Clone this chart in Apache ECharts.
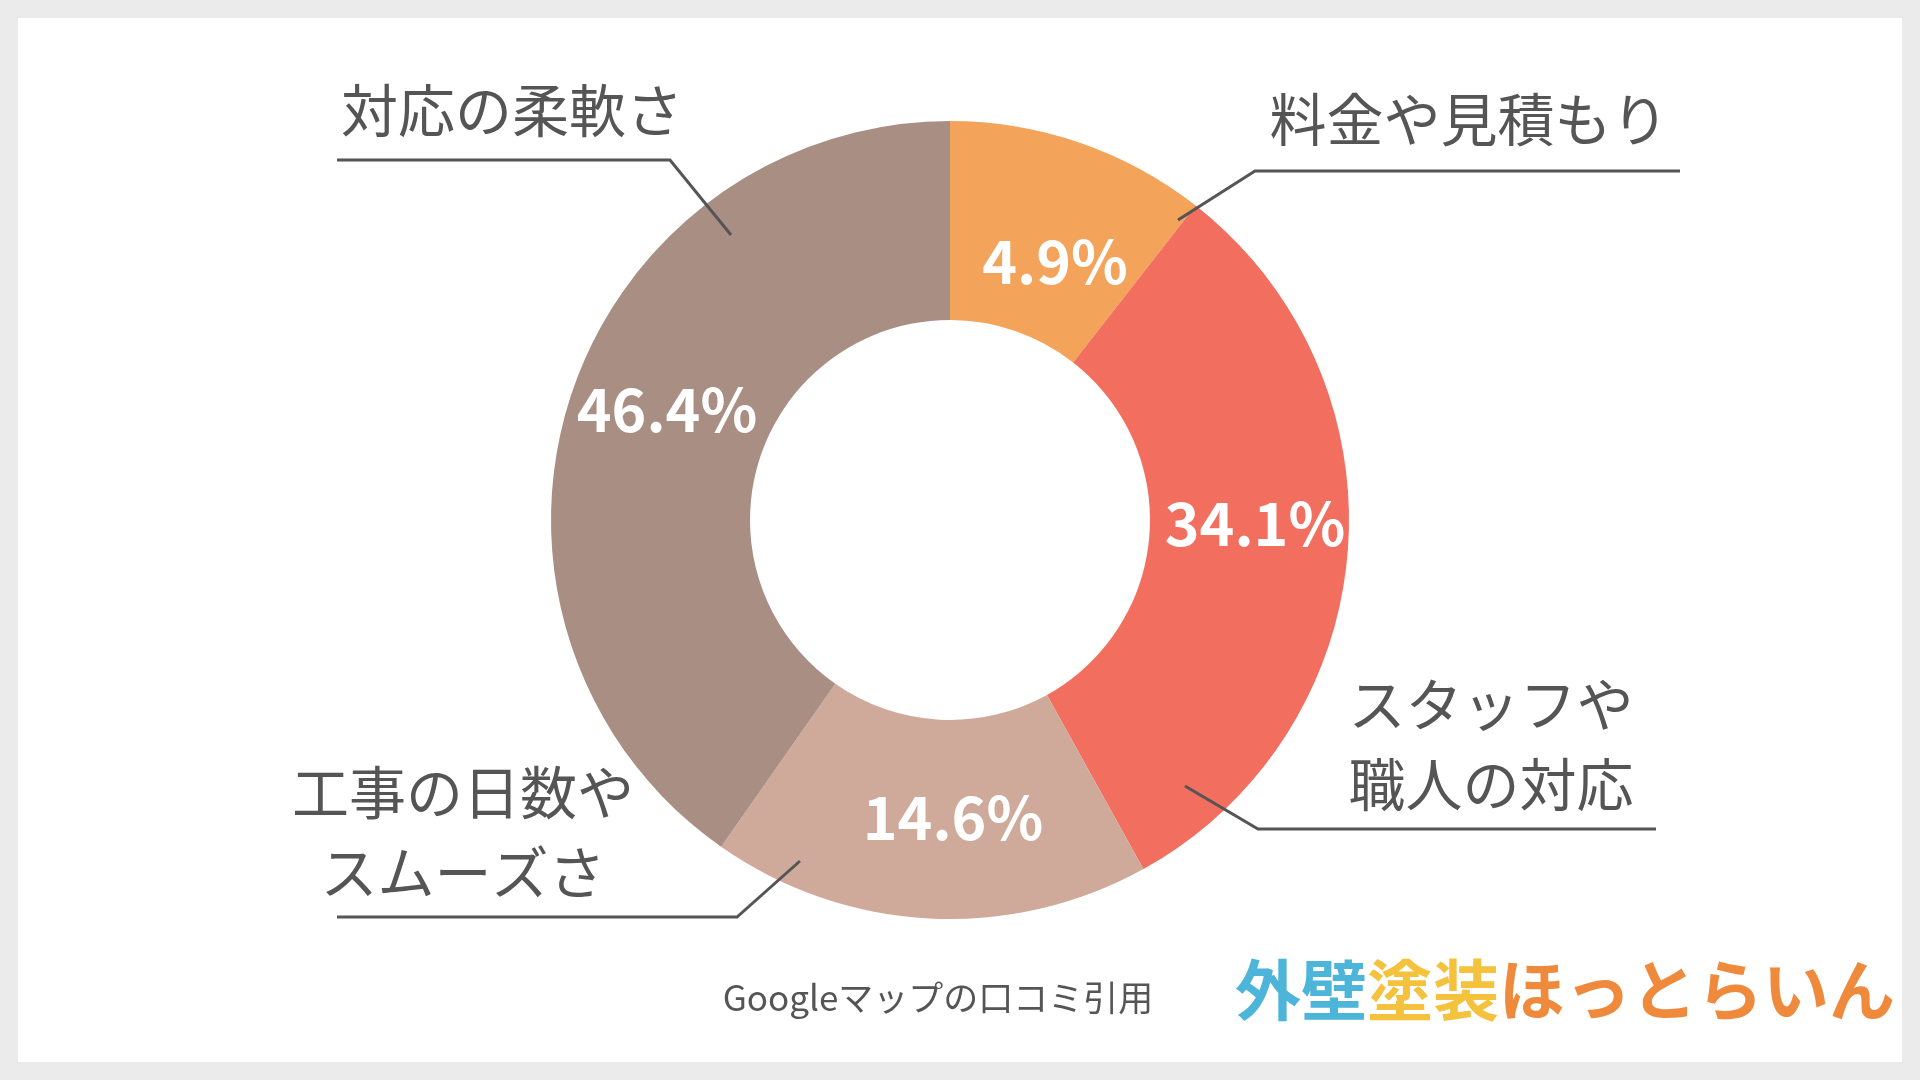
<!DOCTYPE html>
<html><head><meta charset="utf-8">
<script src="https://cdn.jsdelivr.net/npm/echarts@6/dist/echarts.min.js"></script>
<style>html,body{margin:0;padding:0;background:#ebebeb;}#c{width:1920px;height:1080px;}</style>
</head><body><div id="c"></div>
<script>
const categories = ['料金や見積もり', 'スタッフや\n職人の対応', '工事の日数や\nスムーズさ', '対応の柔軟さ'];
// slice sizes as drawn in the picture (degrees of arc)
const sliceSizes = [38, 113, 64, 145];
// percentage labels as printed
const percentLabels = ['4.9%', '34.1%', '14.6%', '46.4%'];
const colors = ['#F4A35B', '#F26E5E', '#CFAA9B', '#A98E83'];

const F = '"Noto Sans CJK JP", "Noto Sans", sans-serif';
const inner = [[1055,262],[1255,524],[953,818],[667,410]];
const outer = [
  {x:1469,y:119,pts:[[1178,220],[1255,171],[1680,171]]},
  {x:1491,y:744,pts:[[1185,786],[1258,829],[1656,829]]},
  {x:463,y:832,pts:[[800,861],[737,917],[337,917]]},
  {x:512,y:110,pts:[[731,235],[670,160],[337,160]]}
];
const data = categories.map((n,i)=>({name:n,value:sliceSizes[i],itemStyle:{color:colors[i]}}));
const chart = echarts.init(document.getElementById('c'));
chart.setOption({
  backgroundColor:'#ebebeb',
  animation:false,
  graphic:[
    {type:'rect',z:-10,shape:{x:18,y:18,width:1884,height:1044},style:{fill:'#ffffff'}},
    {type:'text',style:{text:'Googleマップの口コミ引用',x:938,y:998,align:'center',verticalAlign:'middle',font:'35px '+F,fill:'#555'}},
    {type:'text',style:{x:1565,y:990,align:'center',verticalAlign:'middle',
      rich:{a:{fill:'#4DB5DA',font:'bold 66px '+F},b:{fill:'#F5C23E',font:'bold 66px '+F},c:{fill:'#EF8A3C',font:'bold 66px '+F}},
      text:'{a|外壁}{b|塗装}{c|ほっとらいん}'}}
  ],
  series:[
    {type:'pie',z:2,center:[950,520],radius:[200,399],startAngle:90,clockwise:true,
     data:data,
     label:{position:'inside',color:'#fff',fontFamily:F,fontWeight:'bold',fontSize:59,formatter:p=>percentLabels[p.dataIndex]},
     labelLine:{show:false},
     labelLayout:p=>({x:inner[p.dataIndex][0],y:inner[p.dataIndex][1],align:'center',verticalAlign:'middle'}),
     emphasis:{disabled:true}},
    {type:'pie',z:5,center:[950,520],radius:[200,399],startAngle:90,clockwise:true,silent:true,
     data:data.map(d=>({name:d.name,value:d.value,itemStyle:{color:'rgba(0,0,0,0)'}})),
     label:{position:'outside',color:'#555',fontFamily:F,fontSize:57,lineHeight:80,formatter:p=>p.name},
     labelLine:{show:true,lineStyle:{color:'#555',width:3}},
     labelLayout:p=>({x:outer[p.dataIndex].x,y:outer[p.dataIndex].y,align:'center',verticalAlign:'middle',labelLinePoints:outer[p.dataIndex].pts}),
     emphasis:{disabled:true}}
  ]
});
</script></body></html>
